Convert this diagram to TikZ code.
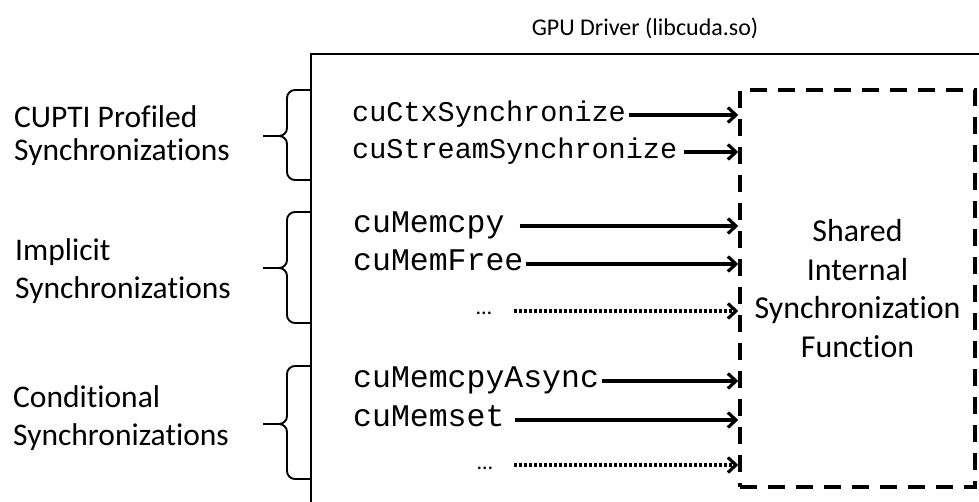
\documentclass[tikz,border=0pt]{standalone}
\usepackage{fontspec}
\setmainfont{Carlito}[Ligatures=NoCommon]
\newfontfamily\codefont{Liberation Mono}
\usetikzlibrary{arrows.meta}

\tikzset{
  grouplabel/.style={font=\fontsize{31.5}{38}\selectfont, align=left, anchor=west, inner sep=0pt},
  codeA/.style={font=\codefont\fontsize{28.5}{30}\selectfont, anchor=west, inner sep=0pt,
                text height=17.7pt, text depth=5.1pt},
  codeB/.style={font=\codefont\fontsize{31.5}{33}\selectfont, anchor=west, inner sep=0pt,
                text height=19.5pt, text depth=5.7pt},
  more/.style={font=\fontsize{22}{24}\selectfont, anchor=base, inner sep=0pt},
  call/.style={line width=3.2pt, -{Straight Barb[length=8pt,width=15pt]}},
  maybecall/.style={call, dash pattern=on 3pt off 2pt},
  bracket/.style={line width=1.9pt, rounded corners=8pt},
}

\begin{document}
\begin{tikzpicture}[x=1pt, y=-1pt]
\useasboundingbox (0,0) rectangle (979,502);

% driver outline (runs off the page to the right and bottom)
\node[font=\fontsize{24}{26}\selectfont, inner sep=0pt] (title) at (645,28) {GPU Driver (libcuda.so)};
\draw[line width=1.5pt] (979,54) -- (311,54) -- (311,502);

% shared synchronization routine
\node[draw, line width=3.5pt, dash pattern=on 17pt off 11pt,
      minimum width=235pt, minimum height=397pt, inner sep=0pt,
      align=center, font=\fontsize{31.9}{38.5}\selectfont] (sync) at (857.5,288.5)
  {Shared\\Internal\\Synchronization\\Function};

% group labels
\node[grouplabel, font=\fontsize{31.5}{33}\selectfont] (cupti) at (14,136) {CUPTI Profiled\\Synchronizations};
\node[grouplabel] (implicit) at (15,271) {Implicit\\Synchronizations};
\node[grouplabel] (cond) at (13,418) {Conditional\\Synchronizations};

% braces
\draw[bracket] (311,90)  -- (287,90)  -- (287,136) -- (263,136);
\draw[bracket] (263,136) -- (287,136) -- (287,180) -- (311,180);
\draw[bracket] (311,212) -- (287,212) -- (287,268) -- (263,268);
\draw[bracket] (263,268) -- (287,268) -- (287,323) -- (311,323);
\draw[bracket] (311,366) -- (287,366) -- (287,424) -- (263,424);
\draw[bracket] (263,424) -- (287,424) -- (287,479) -- (311,479);

% driver entry points
\node[codeA] (ctx)    at (352,115) {cuCtxSynchronize};
\node[codeA] (stream) at (352,152) {cuStreamSynchronize};
\node[codeB] (memcpy) at (353,226) {cuMemcpy};
\node[codeB] (free)   at (353,264) {cuMemFree};
\node[more]  (dotsA)  at (484,315) {…};
\node[codeB] (async)  at (353,381) {cuMemcpyAsync};
\node[codeB] (memset) at (353,420) {cuMemset};
\node[more]  (dotsB)  at (485,469) {…};

% calls into the shared routine
\draw[call] ([xshift=3pt]ctx.east) -- (ctx.east -| sync.west);
\draw[call] ([xshift=7pt]stream.east) -- (stream.east -| sync.west);
\draw[call] ([xshift=15pt]memcpy.east) -- (memcpy.east -| sync.west);
\draw[call] ([xshift=2pt]free.east) -- (free.east -| sync.west);
\draw[maybecall] ([xshift=22pt]dotsA.east |- 0,311) -- (sync.west |- 0,311);
\draw[call] ([xshift=3pt]async.east) -- (async.east -| sync.west);
\draw[call] ([xshift=10pt]memset.east) -- (memset.east -| sync.west);
\draw[maybecall] ([xshift=21pt]dotsB.east |- 0,465) -- (sync.west |- 0,465);
\end{tikzpicture}
\end{document}
